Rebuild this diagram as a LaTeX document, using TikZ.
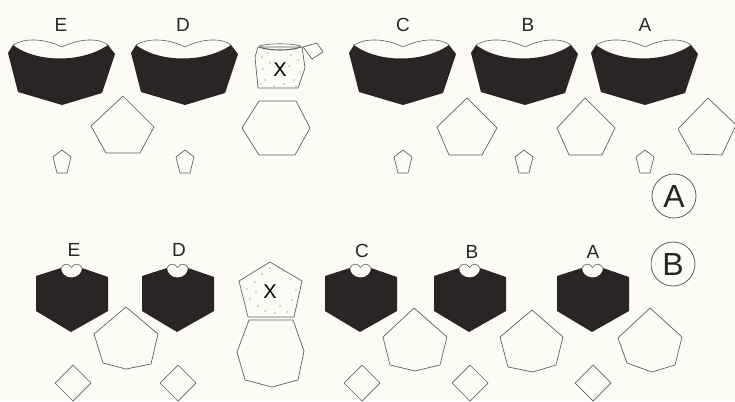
\documentclass[tikz,border=0pt]{standalone}
\usepackage{fontspec}
\setmainfont{Liberation Sans}
\definecolor{bg}{RGB}{252,252,245}
\definecolor{ink}{RGB}{42,36,36}
\definecolor{edge}{RGB}{95,95,95}
\begin{document}
\begin{tikzpicture}[x=1pt,y=-1pt,
  outl/.style={draw=edge, line width=0.7pt, line join=round},
  lab/.style={font=\fontsize{19}{19}\selectfont, text=black!85, inner sep=0pt},
  xlab/.style={font=\fontsize{20}{20}\selectfont, text=black, inner sep=0pt},
  circlab/.style={circle, draw=edge, line width=0.8pt, minimum size=44pt, inner sep=0pt, font=\fontsize{32}{32}\selectfont, text=black!85},
  topdark/.pic={
    \fill[ink] (-49,45) .. controls (-25,63) and (20,63) .. (46,45) -- (53,54) -- (40,93) -- (0,105) -- (-44,92) -- (-54,53) -- cycle;
    \draw[edge, line width=0.6pt] (-49,45) .. controls (-38,38) and (-18,38) .. (0,47) .. controls (18,38) and (38,38) .. (46,45);
  },
  smallpent/.pic={
    \draw[outl] (0,150) -- (-9,157) -- (-5,173) -- (5,173) -- (9,157) -- cycle;
  },
  botdark/.pic={
    \fill[ink] (-36,276) -- (-11,268) arc[start angle=180, end angle=0, x radius=10.5, y radius=9.5] -- (36,277) -- (36,311) -- (-1,332) -- (-36,311) -- cycle;
    \draw[edge, line width=0.6pt] (-11,268) .. controls (-9,263) and (-3,263) .. (-0.5,267.5) .. controls (2,263) and (8,263) .. (10,268);
  },
  diam/.pic={
    \draw[outl] (0,365) -- (-18,383) -- (0,401) -- (18,383) -- cycle;
  }
]
\fill[bg] (0,0) rectangle (735,401);
\useasboundingbox (0,0) rectangle (735,401);

% ---------- Panel A (top) ----------
\pic at (62,0) {topdark};
\pic at (185,0) {topdark};
\pic at (403,0) {topdark};
\pic at (525,0) {topdark};
\pic at (645,0) {topdark};

\node[lab] (tE) at (61,25) {E};
\node[lab] (tD) at (183,25) {D};
\node[lab] (tC) at (403,25) {C};
\node[lab] (tB) at (528,25) {B};
\node[lab] (tA) at (645,25) {A};

\pic at (62,0) {smallpent};
\pic at (185,0) {smallpent};
\pic at (403,0) {smallpent};
\pic at (524,0) {smallpent};
\pic at (645,0) {smallpent};

\draw[outl] (123,96) -- (91,126) -- (106,153) -- (140,153) -- (154,127) -- cycle;
\draw[outl] (467,98) -- (437,127) -- (449,155) -- (482,155) -- (497,128) -- cycle;
\draw[outl] (585,98) -- (557,128) -- (569,155) -- (602,155) -- (615,128) -- cycle;
\draw[outl] (708,98) -- (678,129) -- (692,154) -- (722,155) -- (736,125) -- cycle;

% X (top)
\draw[outl] (258,47) -- (255,57) -- (258,88) -- (298,88) -- (305,68) -- (302,47) -- cycle;
\draw[edge, line width=0.6pt] (259,46) .. controls (270,43) and (290,43) .. (301,46);
\draw[edge, line width=1.1pt] (259,47) .. controls (270,51) and (290,51) .. (301,47);
\foreach \p in {(262,57),(268,53),(291,55),(298,60),(263,69),(300,72),(265,80),(284,84),(274,86),(294,80),(270,63),(289,66),(261,84),(296,86)}
  \fill[edge] \p circle (0.6);
\node[xlab] (tX) at (280,70) {X};
\draw[outl] (303,47) -- (317,43) -- (323,52) -- (312,59) -- cycle;
\draw[outl] (259,101) -- (296,101) -- (310,128) -- (295,155) -- (259,155) -- (242,128) -- cycle;

\node[circlab] (cA) at (674,196) {A};

% ---------- Panel B (bottom) ----------
\pic at (72,0) {botdark};
\pic at (178,0) {botdark};
\pic at (361,0) {botdark};
\pic at (470,0) {botdark};
\pic at (593,0) {botdark};

\node[lab] (bE) at (74,250) {E};
\node[lab] (bD) at (179,250) {D};
\node[lab] (bC) at (362,251) {C};
\node[lab] (bB) at (472,252) {B};
\node[lab] (bA) at (593,252) {A};

\draw[outl] (126,307) -- (94,334) -- (103,363) -- (126,369) -- (151,364) -- (158,334) -- cycle;
\draw[outl] (414,308) -- (383,337) -- (390,365) -- (415,371) -- (440,365) -- (447,337) -- cycle;
\draw[outl] (532,310) -- (500,337) -- (508,367) -- (533,372) -- (556,365) -- (563,337) -- cycle;
\draw[outl] (650,308) -- (618,338) -- (627,363) -- (652,372) -- (675,365) -- (682,337) -- cycle;

\pic at (73,0) {diam};
\pic at (178,0) {diam};
\pic at (362,0) {diam};
\pic at (470,0) {diam};
\pic at (593,0) {diam};

% X (bottom)
\draw[outl] (270,262) -- (239,281) -- (248,317) -- (294,317) -- (302,281) -- cycle;
\foreach \p in {(255,282),(262,274),(283,271),(291,279),(296,290),(250,299),(258,306),(265,311),(280,306),(287,312),(275,313),(292,300),(247,289),(270,268),(256,292)}
  \fill[edge] \p circle (0.6);
\node[xlab] (bX) at (270,292) {X};
\draw[outl] (249,320) -- (293,320) -- (304,351) -- (298,380) -- (272,387) -- (245,380) -- (237,352) -- cycle;

\node[circlab] (cB) at (673,264) {B};
\end{tikzpicture}
\end{document}
